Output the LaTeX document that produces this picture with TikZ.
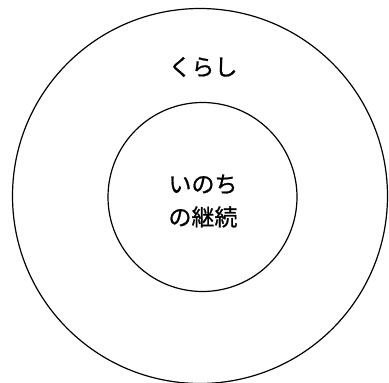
\documentclass[tikz,border=0pt]{standalone}
\usepackage{fontspec}
\newfontfamily\cjk[FakeBold=0.8]{Noto Sans CJK JP}
\begin{document}
\begin{tikzpicture}[x=1pt,y=-1pt,
  ring/.style={draw=black,line width=1.2pt,circle,inner sep=0pt},
  lbl/.style={font=\cjk\fontsize{23}{33}\selectfont,align=center,inner sep=0pt}]
\useasboundingbox (0,0) rectangle (389,383);
\node[ring,minimum size=375pt] (outer) at (200,196) {};
\node[ring,minimum size=189pt] (inner) at (202.5,197) {};
\node[lbl] (kurashi) at (203,67) {くらし};
\node[lbl] (inochi) at (203,201) {いのち\\の継続};
\end{tikzpicture}
\end{document}
